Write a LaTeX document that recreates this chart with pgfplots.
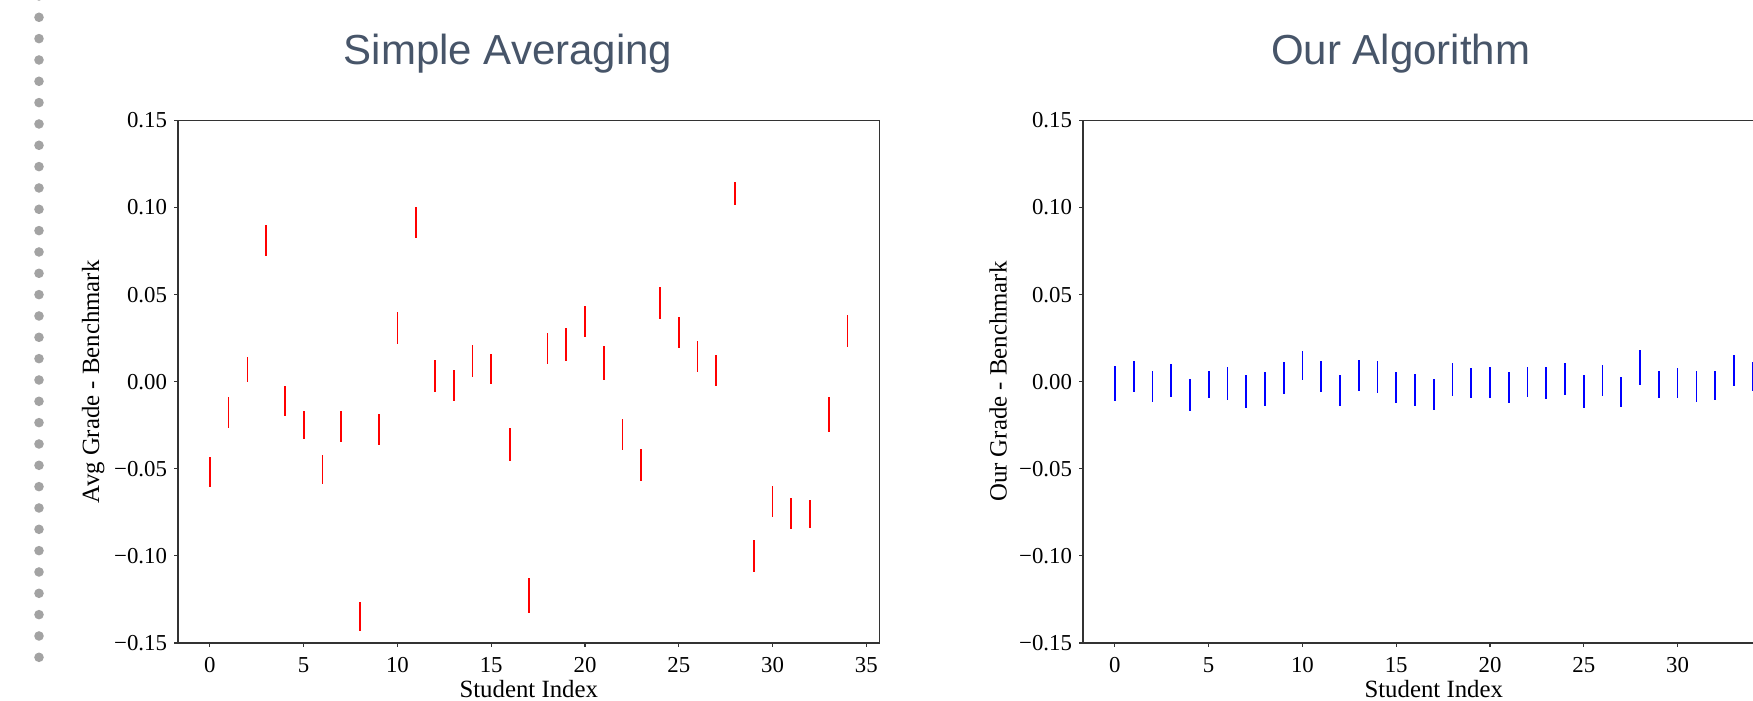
\documentclass[border=0pt]{standalone}
\usepackage{fontspec}
\setmainfont{Liberation Serif}
\newfontfamily\titlefont{Liberation Sans}
\usepackage{pgfplots}
\pgfplotsset{compat=1.18}
\usepackage{pgfplotstable}

\definecolor{titleslate}{HTML}{475569}
\definecolor{dotgray}{HTML}{A3A3A3}
\definecolor{spine}{HTML}{333333}

% student index, grade difference, half length of the bar
\pgfplotstableread{
x y e
0 -0.0520 0.0087
1 -0.0178 0.0090
2 0.0071 0.0073
3 0.0810 0.0091
4 -0.0113 0.0086
5 -0.0248 0.0081
6 -0.0506 0.0083
7 -0.0256 0.0090
8 -0.1348 0.0083
9 -0.0274 0.0090
10 0.0308 0.0094
11 0.0914 0.0089
12 0.0033 0.0094
13 -0.0022 0.0089
14 0.0120 0.0091
15 0.0073 0.0086
16 -0.0361 0.0093
17 -0.1228 0.0099
18 0.0192 0.0090
19 0.0215 0.0094
20 0.0346 0.0089
21 0.0105 0.0098
22 -0.0303 0.0091
23 -0.0478 0.0092
24 0.0452 0.0094
25 0.0282 0.0091
26 0.0144 0.0091
27 0.0064 0.0089
28 0.1081 0.0067
29 -0.1002 0.0091
30 -0.0689 0.0088
31 -0.0758 0.0088
32 -0.0759 0.0081
33 -0.0190 0.0100
34 0.0292 0.0093
}\avgdata

\pgfplotstableread{
x y e
0 -0.0012 0.0100
1 0.0028 0.0089
2 -0.0027 0.0090
3 0.0006 0.0096
4 -0.0076 0.0093
5 -0.0016 0.0080
6 -0.0009 0.0095
7 -0.0056 0.0095
8 -0.0043 0.0099
9 0.0021 0.0092
10 0.0094 0.0082
11 0.0029 0.0088
12 -0.0050 0.0090
13 0.0033 0.0089
14 0.0027 0.0092
15 -0.0034 0.0091
16 -0.0047 0.0091
17 -0.0075 0.0090
18 0.0013 0.0095
19 -0.0008 0.0088
20 -0.0005 0.0089
21 -0.0034 0.0091
22 -0.0003 0.0087
23 -0.0009 0.0093
24 0.0016 0.0093
25 -0.0056 0.0094
26 0.0008 0.0090
27 -0.0060 0.0088
28 0.0081 0.0102
29 -0.0016 0.0075
30 -0.0007 0.0087
31 -0.0030 0.0089
32 -0.0021 0.0082
33 0.0062 0.0089
34 0.0028 0.0083
}\ourdata

\pgfplotsset{
  gradeaxis/.style={
    scale only axis,
    width=350.75pt, height=261.3pt,
    xmin=-1.7, xmax=35.7, ymin=-0.15, ymax=0.15,
    xtick={0,5,...,35},
    xticklabels={0,5,10,15,20,25,30,35},
    ytick={-0.15,-0.1,-0.05,0,0.05,0.1,0.15},
    yticklabels={−0.15,−0.10,−0.05,0.00,0.05,0.10,0.15},
    tick pos=left, tick align=outside, major tick length=2pt,
    axis line style={spine, line width=0.6pt},
    every tick/.style={spine, line width=0.6pt},
    ticklabel style={font=\fontsize{11.4}{12}\selectfont},
    xticklabel style={yshift=-1.7pt},
    every axis x label/.style={at={(axis description cs:0.5,-0.1047)}, anchor=base,
      font=\fontsize{12.4}{14}\selectfont},
    every axis y label/.style={at={(axis description cs:-0.121,0.5)}, rotate=90, anchor=center,
      font=\fontsize{12.4}{14}\selectfont},
    xlabel={Student Index},
  },
  gradebars/.style={
    draw=none, mark=none, forget plot,
    error bars/.cd, y dir=both, y explicit, error mark=none,
    error bar style={draw=#1, line width=0.85pt},
  },
}

\begin{document}
\begin{tikzpicture}
\useasboundingbox (0,0) rectangle (876.5pt,350.5pt);
\clip (0,0) rectangle (876.5pt,350.5pt);

% dotted strip on the left edge
\foreach \k in {-1,...,30}
  \fill[dotgray] (19.5pt,{341.85pt-10.667pt*\k}) circle (2.4pt);

\node[font=\titlefont\fontsize{21}{24}\selectfont, text=titleslate, anchor=base] at (254pt,318pt) {Simple Averaging};
\node[font=\titlefont\fontsize{21}{24}\selectfont, text=titleslate, anchor=base] at (700.4pt,318pt) {Our Algorithm};

\begin{axis}[gradeaxis, at={(89pt,29pt)}, anchor=south west,
  ylabel={Avg Grade - Benchmark}]
\addplot[gradebars=red] table[x=x, y=y, y error=e] {\avgdata};
\end{axis}

% right panel runs past the page edge; its 35 tick falls outside
\begin{axis}[gradeaxis, at={(541.5pt,29pt)}, anchor=south west,
  xtick={0,5,...,30}, xticklabels={0,5,10,15,20,25,30},
  ylabel={Our Grade - Benchmark}]
\addplot[gradebars=blue] table[x=x, y=y, y error=e] {\ourdata};
\end{axis}
\end{tikzpicture}
\end{document}
